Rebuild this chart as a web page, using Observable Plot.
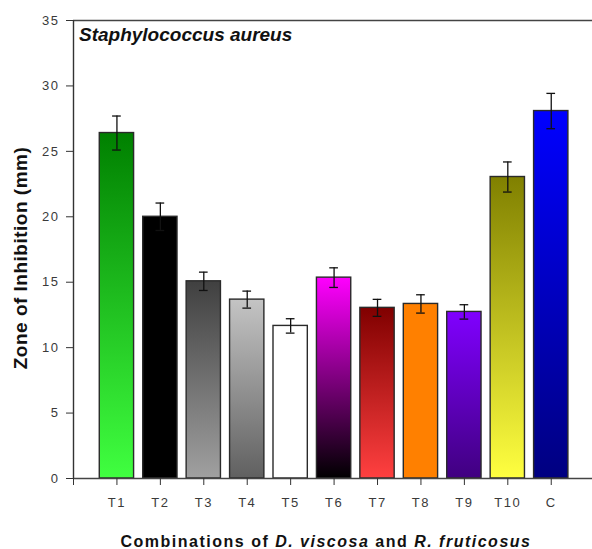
<!DOCTYPE html>
<html><head><meta charset="utf-8">
<script src="https://cdn.jsdelivr.net/npm/d3@7"></script>
<script src="https://cdn.jsdelivr.net/npm/@observablehq/plot@0.6"></script>
<style>body{margin:0;background:#fff} svg{display:block}</style>
</head><body><div id="chart"></div>
<script>
const categories = ["T1","T2","T3","T4","T5","T6","T7","T8","T9","T10","C"];
const values = [26.4, 20.0, 15.07, 13.67, 11.66, 15.35, 13.04, 13.34, 12.73, 23.04, 28.08];
const errors = [1.3, 1.05, 0.7, 0.65, 0.55, 0.75, 0.65, 0.7, 0.55, 1.15, 1.35];
const gradTop    = ["#008000","#000000","#404040","#c4c4c4","#ffffff","#ff00ff","#800000","#ff8000","#8000ff","#808000","#0000ff"];
const gradBottom = ["#40ff40","#000000","#a0a0a0","#606060","#ffffff","#000000","#ff4040","#ff8000","#400080","#ffff40","#000080"];
const yTicks = [0, 5, 10, 15, 20, 25, 30, 35];
const titleText = "Staphylococcus aureus";

const data = categories.map((c, i) => ({c, pos: i + 1, v: values[i], e: errors[i], id: "grad" + i}));
const capHalf = 0.1;
const halfBar = 0.395;
const font = "'Liberation Sans', Arial, sans-serif";

const chart = Plot.plot({
  width: 592, height: 549,
  marginLeft: 73, marginRight: 0, marginTop: 20, marginBottom: 71,
  x: {domain: [0, 11.95], axis: null},
  y: {domain: [0, 35], axis: null},
  color: {type: "identity"},
  style: {fontFamily: font, background: "#fff"},
  marks: [
    Plot.rectY(data, {x1: d => d.pos - halfBar, x2: d => d.pos + halfBar, y: "v", fill: d => `url(#${d.id})`, stroke: "#2a2a2a", strokeWidth: 1.4}),
    Plot.ruleX(data, {x: "pos", y1: d => d.v - d.e, y2: d => d.v + d.e, stroke: "#111", strokeWidth: 1.3}),
    Plot.ruleY(data, {y: d => d.v + d.e, x1: d => d.pos - capHalf, x2: d => d.pos + capHalf, stroke: "#111", strokeWidth: 1.3}),
    Plot.ruleY(data, {y: d => d.v - d.e, x1: d => d.pos - capHalf, x2: d => d.pos + capHalf, stroke: "#111", strokeWidth: 1.3}),
    Plot.ruleY([0, 35], {stroke: "#444", strokeWidth: 1.5}),
    Plot.ruleX([0], {stroke: "#333", strokeWidth: 1.4}),
    Plot.axisY({ticks: yTicks, tickSize: 7, tickPadding: 7, fontSize: 13, color: "#3a3a3a", stroke: "#333", label: null}),
    Plot.axisX({ticks: d3.range(0, 12), tickSize: 7, tickPadding: 12, fontSize: 13, color: "#3a3a3a", stroke: "#333", label: null,
      tickFormat: d => d === 0 ? "" : categories[d - 1]})
  ]
});

const svg = d3.select(chart);
const defs = svg.insert("defs", ":first-child");
data.forEach((d, i) => {
  const g = defs.append("linearGradient").attr("id", d.id).attr("x1", 0).attr("y1", 0).attr("x2", 0).attr("y2", 1);
  g.append("stop").attr("offset", "0%").attr("stop-color", gradTop[i]);
  g.append("stop").attr("offset", "100%").attr("stop-color", gradBottom[i]);
});
svg.selectAll("g[aria-label='x-axis tick label'] text, g[aria-label='y-axis tick label'] text").style("letter-spacing", "1.5px");

svg.append("text").attr("x", 79).attr("y", 41).attr("text-anchor", "start").attr("font-family", font).attr("font-size", 19)
  .attr("font-weight", "bold").attr("font-style", "italic").attr("fill", "#111").text(titleText);

svg.append("text").attr("transform", "translate(27,258) rotate(-90)").attr("text-anchor", "middle")
  .attr("font-family", font).attr("font-size", 19).attr("font-weight", "bold").attr("fill", "#111")
  .style("letter-spacing", "0.5px").text("Zone of Inhibition (mm)");

const xl = svg.append("text").attr("x", 326).attr("y", 547).attr("text-anchor", "middle")
  .attr("font-family", font).attr("font-size", 16).attr("font-weight", "bold").attr("fill", "#111")
  .style("letter-spacing", "1.5px");
xl.append("tspan").text("Combinations of ");
xl.append("tspan").attr("font-style", "italic").text("D. viscosa");
xl.append("tspan").text(" and ");
xl.append("tspan").attr("font-style", "italic").text("R. fruticosus");

document.getElementById("chart").append(chart);
</script>
</body></html>
